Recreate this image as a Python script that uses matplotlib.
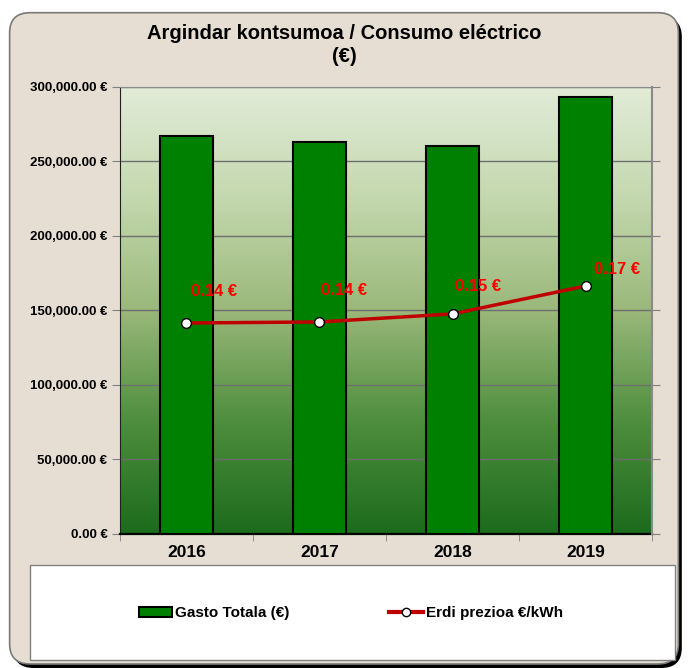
import numpy as np
import matplotlib
matplotlib.use("Agg")
import matplotlib.pyplot as plt
from matplotlib.patches import FancyBboxPatch, Rectangle, Patch
from matplotlib.lines import Line2D
from matplotlib.colors import LinearSegmentedColormap
from matplotlib.ticker import FuncFormatter, MultipleLocator

plt.rcParams['font.family'] = ['Liberation Sans', 'DejaVu Sans']

# datos
urteak = ['2016', '2017', '2018', '2019']
gasto_totala = [267000, 263000, 260500, 293000]
erdi_prezioa = [0.1416, 0.1423, 0.1477, 0.1664]
prezio_etiketak = ['0.14 €', '0.14 €', '0.15 €', '0.17 €']
# desplazamiento de cada etiqueta (puntos)
desplaz = [(3, 23), (1, 22.5), (2, 20), (6, 12)]

fondo = '#E6DED2'

fig = plt.figure(figsize=(6.88, 6.68), dpi=100)
fig.patch.set_facecolor('white')

# marco redondeado con sombra
sombra = FancyBboxPatch((0.019, 0.0), 0.972, 0.975, boxstyle="round,pad=0,rounding_size=0.03",
                        transform=fig.transFigure, facecolor='black', edgecolor='none', zorder=0)
marco = FancyBboxPatch((0.014, 0.006), 0.972, 0.975, boxstyle="round,pad=0,rounding_size=0.03",
                       transform=fig.transFigure, facecolor=fondo, edgecolor='#7a7a7a', lw=1.2, zorder=0)
fig.patches.extend([sombra, marco])

# caja blanca de la leyenda
caja = Rectangle((0.044, 0.012), 0.937, 0.142, transform=fig.transFigure,
                 facecolor='white', edgecolor='#808080', lw=1, zorder=1)
fig.patches.append(caja)

ax = fig.add_axes([0.1744, 0.2006, 0.7733, 0.6692])
ax.set_zorder(2)
x = np.arange(len(urteak))

# degradado del area del grafico
cmap = LinearSegmentedColormap.from_list('verde', ['#1C6B1C', '#4E8E3E', '#9AB87A', '#C4D8AE', '#E1ECD8'])
grad = np.linspace(0, 1, 256).reshape(-1, 1)
ax.imshow(grad, cmap=cmap, origin='lower', aspect='auto',
          extent=[-0.5, 3.5, 0, 300000], zorder=0)

ax.bar(x, gasto_totala, width=0.4, color='#008000', edgecolor='black', lw=1.5, zorder=3)

ax.set_xlim(-0.5, 3.5)
ax.set_ylim(0, 300000)
ax.yaxis.set_major_locator(MultipleLocator(50000))
ax.yaxis.set_major_formatter(FuncFormatter(lambda v, p: f'{v:,.2f} €'))
ax.grid(axis='y', color='#6e6e6e', lw=1, zorder=1)
ax.set_axisbelow(True)
ax.set_xticks(x)
ax.set_xticklabels(urteak, fontsize=12.5, fontweight='bold')
ax.set_xticks(np.arange(-0.5, 4, 1), minor=True)
ax.tick_params(axis='x', which='major', length=0, pad=8)
ax.tick_params(axis='x', which='minor', length=5, color='#808080')
ax.tick_params(axis='y', length=6, color='#808080', labelsize=9.5, pad=3)
for lbl in ax.get_yticklabels():
    lbl.set_fontweight('bold')
ax.spines['left'].set_color('#202020')
ax.spines['bottom'].set_color('black')
ax.spines['bottom'].set_linewidth(1.6)
ax.spines['top'].set_color('#8a8a8a')
ax.spines['right'].set_visible(False)

# eje secundario del precio
ax2 = ax.twinx()
ax2.set_ylim(0, 0.30)
ax2.yaxis.set_major_locator(MultipleLocator(0.05))
ax2.tick_params(axis='y', length=6, color='#808080', labelright=False)
ax2.spines['right'].set_color('#8a8a8a')
ax2.spines['right'].set_linewidth(1.5)
for s in ['left', 'top', 'bottom']:
    ax2.spines[s].set_visible(False)
ax2.plot(x, erdi_prezioa, color='#C00000', lw=2.5, marker='o', markersize=7,
         markerfacecolor='white', markeredgecolor='black', markeredgewidth=1, zorder=4)
for xi, yi, t, d in zip(x, erdi_prezioa, prezio_etiketak, desplaz):
    ax2.annotate(t, (xi, yi), xytext=d, textcoords='offset points',
                 color='#FF0000', fontsize=12, fontweight='bold', ha='left', va='center')

fig.text(0.5, 0.950, 'Argindar kontsumoa / Consumo eléctrico', ha='center', va='center',
         fontsize=14.5, fontweight='bold')
fig.text(0.5, 0.916, '(€)', ha='center', va='center', fontsize=14.5, fontweight='bold')

handles = [Patch(facecolor='#008000', edgecolor='black', lw=1.5),
           Line2D([0], [0], color='#C00000', lw=3, marker='o', markersize=6,
                  markerfacecolor='white', markeredgecolor='black')]
leg = fig.legend(handles, ['Gasto Totala (€)', 'Erdi prezioa €/kWh'], loc='center',
                 bbox_to_anchor=(0.51, 0.082), ncol=2, frameon=False, fontsize=11,
                 columnspacing=6.5, handlelength=2.2, handletextpad=0.2)
for t in leg.get_texts():
    t.set_fontweight('bold')

fig.savefig('out.png', dpi=100, facecolor=fig.get_facecolor())
